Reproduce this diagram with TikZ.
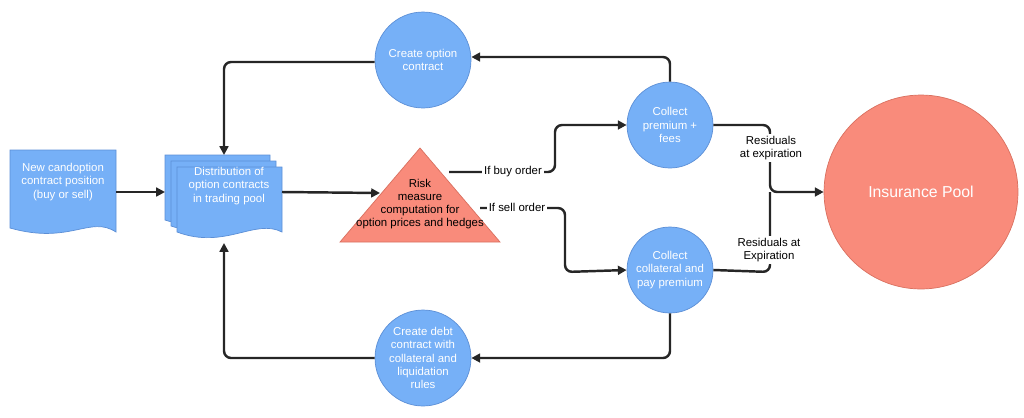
\documentclass[tikz,border=0pt]{standalone}
\usepackage{fontspec}
\setmainfont{Liberation Sans}
\usetikzlibrary{shapes.geometric,arrows.meta}
\definecolor{cb}{HTML}{76B0F7}
\definecolor{cbd}{HTML}{5C8FD6}
\definecolor{cr}{HTML}{F98B7B}
\definecolor{crd}{HTML}{D9705F}
\begin{document}
\begin{tikzpicture}[x=0.02cm,y=-0.02cm,
  circ/.style={circle,fill=cb,draw=cbd,line width=0.4pt,text=white,align=center,font=\fontsize{6.5}{7.5}\selectfont,inner sep=0pt},
  conn/.style={line width=1.4pt,draw=black!85,rounded corners=4pt,-{Triangle[length=5pt,width=5pt]}},
  lab/.style={fill=white,inner sep=1pt,font=\fontsize{6.5}{7.5}\selectfont,align=center}]
\useasboundingbox (0,0) rectangle (1024,417);
% document
\draw[fill=cb,draw=cbd] (10,150) -- (116,150) -- (116,232) .. controls (90,215) and (70,245) .. (10,228) -- cycle;
\node[text=white,align=center,font=\fontsize{6.5}{7.5}\selectfont] (doc) at (63,182) {New candoption\\contract position\\(buy or sell)};
\coordinate (docR) at (116,192);
% multi document
\foreach \o in {0,6} {
  \draw[fill=cb,draw=cbd] (165+\o,155+\o) -- (270+\o,155+\o) -- (270+\o,220+\o) .. controls (240+\o,205+\o) and (210+\o,235+\o) .. (165+\o,220+\o) -- cycle;}
\draw[fill=cb,draw=cbd] (177,167) -- (282,167) -- (282,232) .. controls (255,218) and (225,250) .. (177,232) -- cycle;
\node[text=white,align=center,font=\fontsize{6.5}{7.5}\selectfont] (multi) at (229,186) {Distribution of\\option contracts\\in trading pool};
\coordinate (mL) at (165,192);
\coordinate (mR) at (282,192);
\coordinate (mT) at (224,155);
\coordinate (mB) at (224,243);
% triangle
\draw[fill=cr,draw=crd] (420,148) -- (500,242) -- (340,242) -- cycle;
\node[align=center,font=\fontsize{6.5}{7.5}\selectfont] (tri) at (420,204) {Risk\\measure\\computation for\\option prices and hedges};
\coordinate (tL) at (380,193);
\coordinate (tB) at (449,172);
\coordinate (tS) at (480,208);
% circles
\node[circ,minimum size=96\pgflinewidth*0+1.92cm] (co) at (423,60) {Create option\\contract};
\node[circ,minimum size=1.72cm] (cp) at (670,125) {Collect\\premium +\\fees};
\node[circ,minimum size=1.72cm] (cc) at (670,270) {Collect\\collateral and\\pay premium};
\node[circ,minimum size=1.92cm] (cd) at (423,358) {Create debt\\contract with\\collateral and\\liquidation\\rules};
\node[circle,fill=cr,draw=crd,minimum size=3.88cm,text=white,font=\fontsize{9}{11}\selectfont] (ip) at (921,192) {Insurance Pool};
% connectors
\draw[conn] (docR) -- (mL);
\draw[conn] (mR) -- (tL);
\draw[conn] (tB) -- (555,172) -- (555,125) -- (cp.west);
\node[lab] at (513,172) {If buy order};
\draw[conn] (tS) -- (565,208) -- (565,272) -- (cc.west);
\node[lab] at (517,207) {If sell order};
\draw[conn] (cp.north) -- (670,57) -- (co.east |- 0,57);
\draw[conn] (co.west |- 0,62) -- (224,62) -- (mT);
\draw[conn] (cc.south) -- (670,358) -- (cd.east);
\draw[conn] (cd.west) -- (224,358) -- (mB);
\draw[conn] (cp.east) -- (770,125) -- (770,192) -- (ip.west);
\draw[line width=1.4pt,draw=black!85,rounded corners=4pt] (cc.east) -- (770,272) -- (770,192);
\node[lab] at (771,148) {Residuals\\at expiration};
\node[lab] at (769,250) {Residuals at\\Expiration};
\end{tikzpicture}
\end{document}
